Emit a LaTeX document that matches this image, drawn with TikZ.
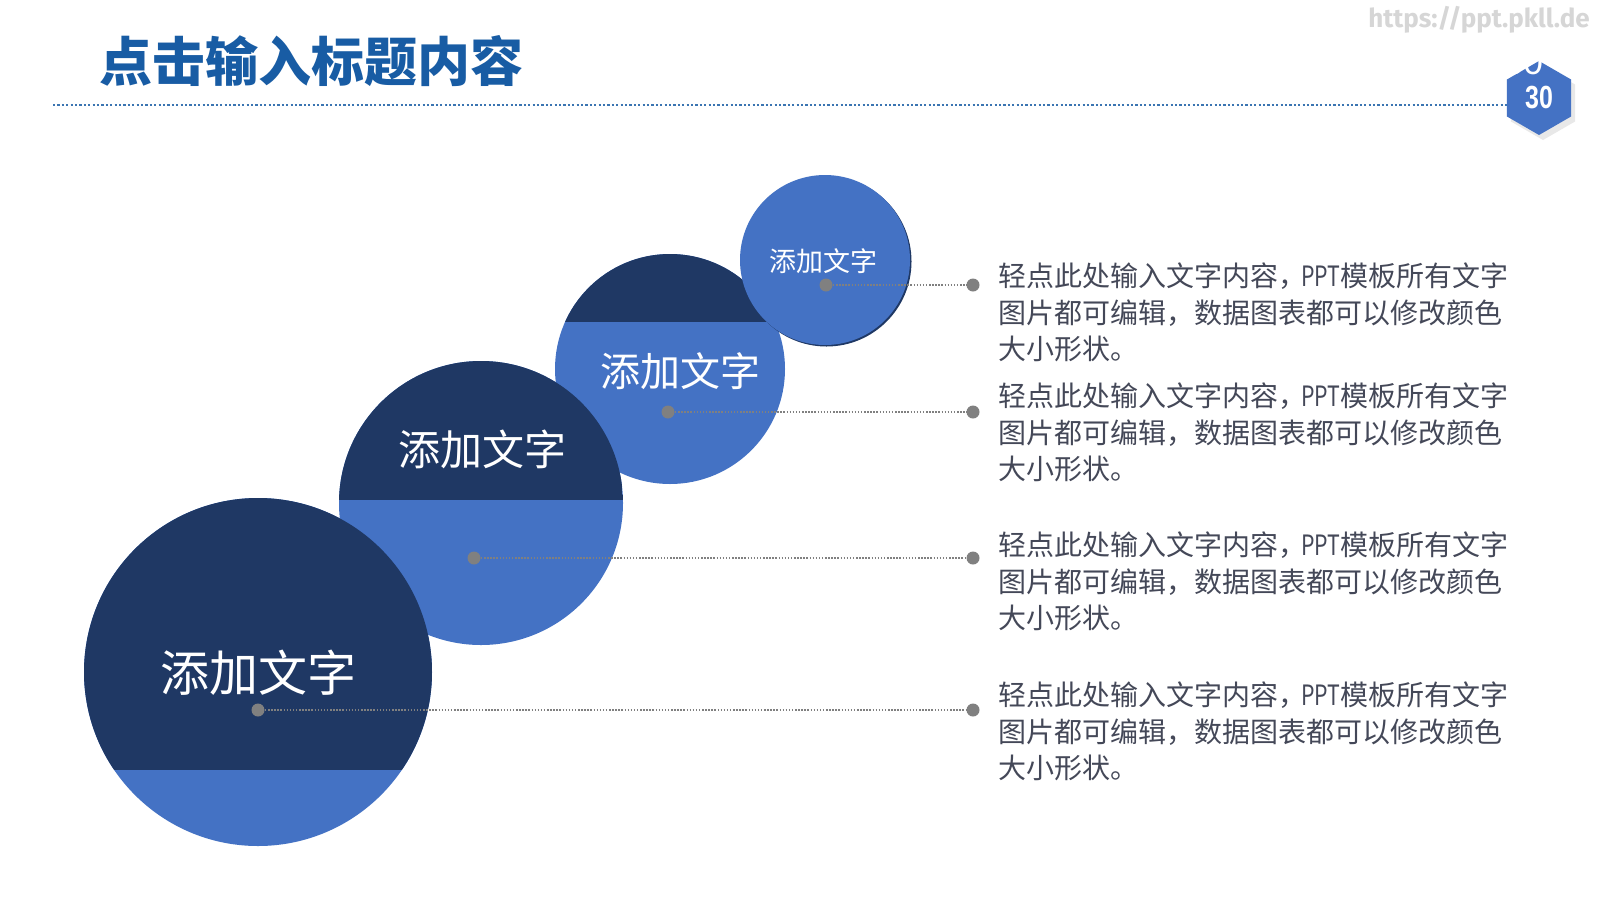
\documentclass[tikz,border=0pt]{standalone}
\usepackage{fontspec}
\newfontfamily\cjk{Noto Sans CJK SC}
\newfontfamily\webfont{Fira Sans}
\newfontfamily\numfont{Liberation Sans}
\usetikzlibrary{shapes.geometric, shadows}

\definecolor{deepblue}{RGB}{31,56,100}
\definecolor{skyblue}{RGB}{68,114,196}
\definecolor{titleblue}{RGB}{24,92,164}
\definecolor{bodygray}{RGB}{68,72,88}
\definecolor{dotgray}{RGB}{128,128,128}

\newcommand{\notetext}{轻点此处输入文字内容，\kern-5pt\scalebox{0.76}[1]{PPT}模板所有文字\\图片都可编辑，数据图表都可以修改颜色\\大小形状。}

\begin{document}
\begin{tikzpicture}[
  x=1pt, y=-1pt,
  ball/.style={
    circle,
    fill=skyblue,
    inner sep=0pt,
    minimum size=#1
  },
  darktop/.style={
    path picture={
      \fill[deepblue] (path picture bounding box.north west)
        rectangle ([yshift=-#1]path picture bounding box.north east);
    }
  },
  balltext/.style={text=white, inner sep=0pt, font=\cjk\fontsize{#1}{#1}\selectfont},
  dot/.style={circle, fill=dotgray, inner sep=0pt, minimum size=13pt},
  leader/.style={dotgray, line width=1.3pt, dash pattern=on 1.5pt off 1.6pt, shorten <=-6pt, shorten >=-6pt},
  note/.style={
    anchor=north west,
    inner sep=0pt,
    align=left,
    text=bodygray,
    font=\cjk\fontsize{28}{36.5}\selectfont
  },
  headline/.style={titleblue!85, line width=2.2pt, dash pattern=on 2.2pt off 2.2pt}
]
\useasboundingbox[fill=white] (0,0) rectangle (1600,900);

% ------------------------------------------------------------
% Header
% ------------------------------------------------------------

\node[anchor=west, inner sep=0pt, text=titleblue,
  font=\cjk\bfseries\fontsize{53}{53}\selectfont] (title) at (99,61) {点击输入标题内容};
\node[anchor=east, inner sep=0pt, text=black!16,
  font=\webfont\bfseries\fontsize{26}{26}\selectfont] (web) at (1590,20) {https://ppt.pkll.de};

\node[regular polygon, regular polygon sides=6, shape border rotate=30,
  minimum size=74pt, inner sep=0pt, fill=skyblue, text=white,
  drop shadow={opacity=0.18, shadow xshift=4pt, shadow yshift=-5pt},
  font=\numfont\bfseries\fontsize{32}{32}\selectfont] (badge) at (1539,98) {\scalebox{0.78}[1]{30}};
\node[text=white, inner sep=0pt, font=\numfont\fontsize{36}{36}\selectfont] (ghost) at (1523,62) {30};

\coordinate (rulestart) at (53,105);
\draw[headline] (rulestart) -- (rulestart -| badge.west);

% ------------------------------------------------------------
% Circles, back to front
% ------------------------------------------------------------

\node[ball=230pt, darktop=68pt] (c3) at (670,369) {};
\node[ball=170pt, drop shadow={fill=deepblue, opacity=1, shadow xshift=1.5pt, shadow yshift=-1.5pt}] (c4) at (825,260) {};
\node[ball=284pt, darktop=139pt] (c2) at (481,503) {};
\node[ball=348pt, darktop=272pt] (c1) at (258,672) {};

\node[balltext=27] (t4) at (823,261) {添加文字};
\node[balltext=40] (t3) at (680,371) {添加文字};
\node[balltext=42] (t2) at (482,449) {添加文字};
\node[balltext=49] (t1) at (258,673) {添加文字};

% ------------------------------------------------------------
% Leaders and notes
% ------------------------------------------------------------

\node[dot] (d4) at (826,285) {};
\node[dot] (e4) at (973,285) {};
\node[dot] (d3) at (668,412) {};
\node[dot] (e3) at (973,412) {};
\node[dot] (d2) at (474,558) {};
\node[dot] (e2) at (973,558) {};
\node[dot] (d1) at (258,710) {};
\node[dot] (e1) at (973,710) {};

\foreach \i in {1,...,4}
  \draw[leader] (d\i) -- (e\i);

\node[note] (n4) at (998,263) {\notetext};
\node[note] (n3) at (998,383) {\notetext};
\node[note] (n2) at (998,532) {\notetext};
\node[note] (n1) at (998,682) {\notetext};

\end{tikzpicture}
\end{document}
